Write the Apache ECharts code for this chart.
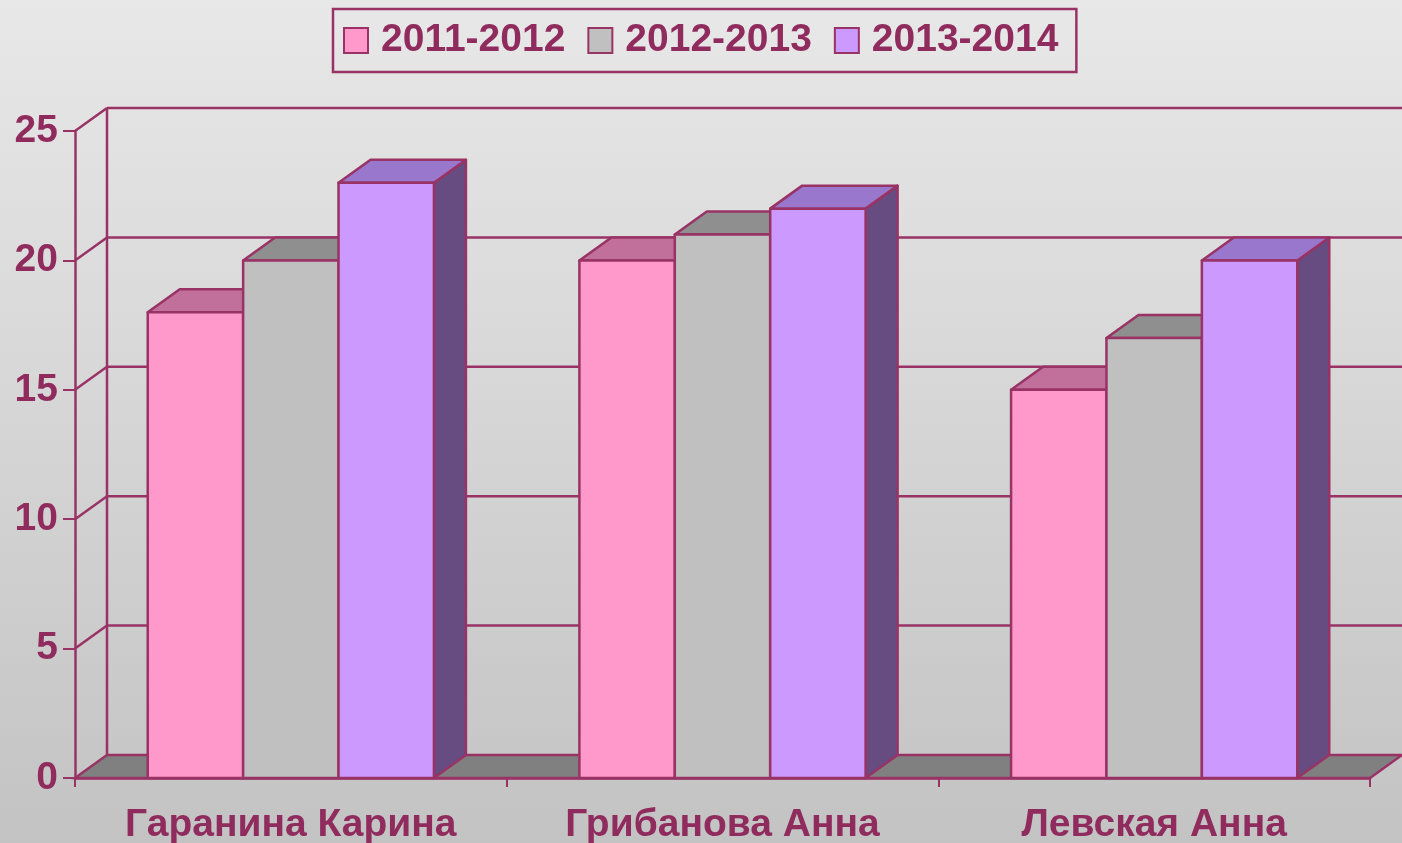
<!DOCTYPE html>
<html>
<head>
<meta charset="utf-8">
<script src="https://cdn.jsdelivr.net/npm/echarts@6/dist/echarts.min.js"></script>
<style>
html,body{margin:0;padding:0;}
#chart{width:1402px;height:843px;}
</style>
</head>
<body>
<div id="chart"></div>
<script>
const categories = ['Гаранина Карина', 'Грибанова Анна', 'Левская Анна'];
const seriesNames = ['2011-2012', '2012-2013', '2013-2014'];
const values2011 = [18, 20, 15];
const values2012 = [20, 21, 17];
const values2013 = [23, 22, 20];
const yTicks = [0, 5, 10, 15, 20, 25];

const MAROON = '#993366';
const TEXT = '#902B5E';
const FONT = '"Liberation Sans", Arial, sans-serif';
const DX = 32, DY = -23;
const BAR_FRAC = 0.221;
const faces = [
  {front: '#FF99CC', top: '#C0709A', side: '#99607F'},
  {front: '#C0C0C0', top: '#8F8F8F', side: '#7A7A7A'},
  {front: '#CC99FF', top: '#9977CC', side: '#664C80'}
];

const chart = echarts.init(document.getElementById('chart'), null, {renderer: 'canvas'});

function barRender(si) {
  return function (params, api) {
    const cat = api.value(0);
    const val = api.value(1);
    const base = api.coord([cat, 0]);
    const top = api.coord([cat, val]);
    const catW = api.size([1, 0])[0];
    const bw = catW * BAR_FRAC;
    const x0 = base[0] - 1.5 * bw + si * bw;
    const x1 = x0 + bw;
    const ty = top[1], by = base[1];
    const f = faces[si];
    const ls = {stroke: MAROON, lineWidth: 2.5, lineJoin: 'round'};
    return {
      type: 'group',
      children: [
        {type: 'polygon', shape: {points: [[x1, ty], [x1 + DX, ty + DY], [x1 + DX, by + DY], [x1, by]]},
          style: Object.assign({fill: f.side}, ls)},
        {type: 'polygon', shape: {points: [[x0, ty], [x1, ty], [x1 + DX, ty + DY], [x0 + DX, ty + DY]]},
          style: Object.assign({fill: f.top}, ls)},
        {type: 'rect', shape: {x: x0, y: ty, width: bw, height: by - ty},
          style: Object.assign({fill: f.front}, ls)}
      ]
    };
  };
}

function frameRender(params, api) {
  const cs = params.coordSys;
  const xl = cs.x, xr = cs.x + cs.width;
  const v = api.value(1);
  const y = api.coord([0, v])[1];
  const ls = {stroke: MAROON, lineWidth: 2.5};
  if (v === 0) {
    return {
      type: 'group',
      children: [
        {type: 'polygon', shape: {points: [[xl, y], [xr, y], [xr + DX, y + DY], [xl + DX, y + DY]]},
          style: Object.assign({fill: '#808080'}, ls)},
        {type: 'line', shape: {x1: xl + DX, y1: y + DY, x2: xl + DX, y2: cs.y + DY}, style: ls}
      ]
    };
  }
  return {
    type: 'group',
    children: [
      {type: 'line', shape: {x1: xl, y1: y, x2: xl + DX, y2: y + DY}, style: ls},
      {type: 'line', shape: {x1: xl + DX, y1: y + DY, x2: xr + DX, y2: y + DY}, style: ls}
    ]
  };
}

const valueLists = [values2011, values2012, values2013];
const barSeries = seriesNames.map(function (name, si) {
  return {
    name: name,
    type: 'custom',
    renderItem: barRender(si),
    encode: {x: 0, y: 1},
    itemStyle: {color: faces[si].front, borderColor: MAROON, borderWidth: 2},
    data: valueLists[si].map(function (v, i) { return [i, v]; }),
    z: 3
  };
});

const option = {
  backgroundColor: {
    type: 'linear', x: 0, y: 0, x2: 0, y2: 1,
    colorStops: [{offset: 0, color: '#E8E8E8'}, {offset: 1, color: '#C3C3C3'}]
  },
  animation: false,
  textStyle: {fontFamily: FONT},
  legend: {
    data: seriesNames.map(function (n, si) {
      return {name: n, icon: 'rect', itemStyle: {color: faces[si].front, borderColor: MAROON, borderWidth: 2}};
    }),
    left: 333, top: 9,
    itemWidth: 24, itemHeight: 25, itemGap: 22,
    padding: [12, 18, 12, 10],
    borderColor: MAROON, borderWidth: 2.5,
    textStyle: {color: TEXT, fontSize: 39, fontWeight: 'bold', fontFamily: FONT, padding: [4, 0, 0, 8]}
  },
  grid: {left: 75, right: 32, top: 131, bottom: 65, containLabel: false, outerBoundsMode: 'none'},
  xAxis: {
    type: 'category',
    data: categories,
    boundaryGap: true,
    axisLine: {show: true, lineStyle: {color: MAROON, width: 2.5}},
    axisTick: {show: true, length: 9, interval: 0, lineStyle: {color: MAROON, width: 2}},
    axisLabel: {color: TEXT, fontSize: 39, fontWeight: 'bold', fontFamily: FONT, margin: 28, interval: 0},
    splitLine: {show: false}
  },
  yAxis: {
    type: 'value',
    min: 0, max: 25, interval: 5,
    axisLine: {show: true, lineStyle: {color: MAROON, width: 2.5}},
    axisTick: {show: true, length: 12, lineStyle: {color: MAROON, width: 2}},
    axisLabel: {color: TEXT, fontSize: 39, fontWeight: 'bold', fontFamily: FONT, margin: 17},
    splitLine: {show: false}
  },
  series: [{
    name: 'frame',
    type: 'custom',
    renderItem: frameRender,
    encode: {x: 0, y: 1},
    data: yTicks.map(function (v) { return [0, v]; }),
    silent: true,
    z: 1
  }].concat(barSeries)
};
chart.setOption(option);
</script>
</body>
</html>
